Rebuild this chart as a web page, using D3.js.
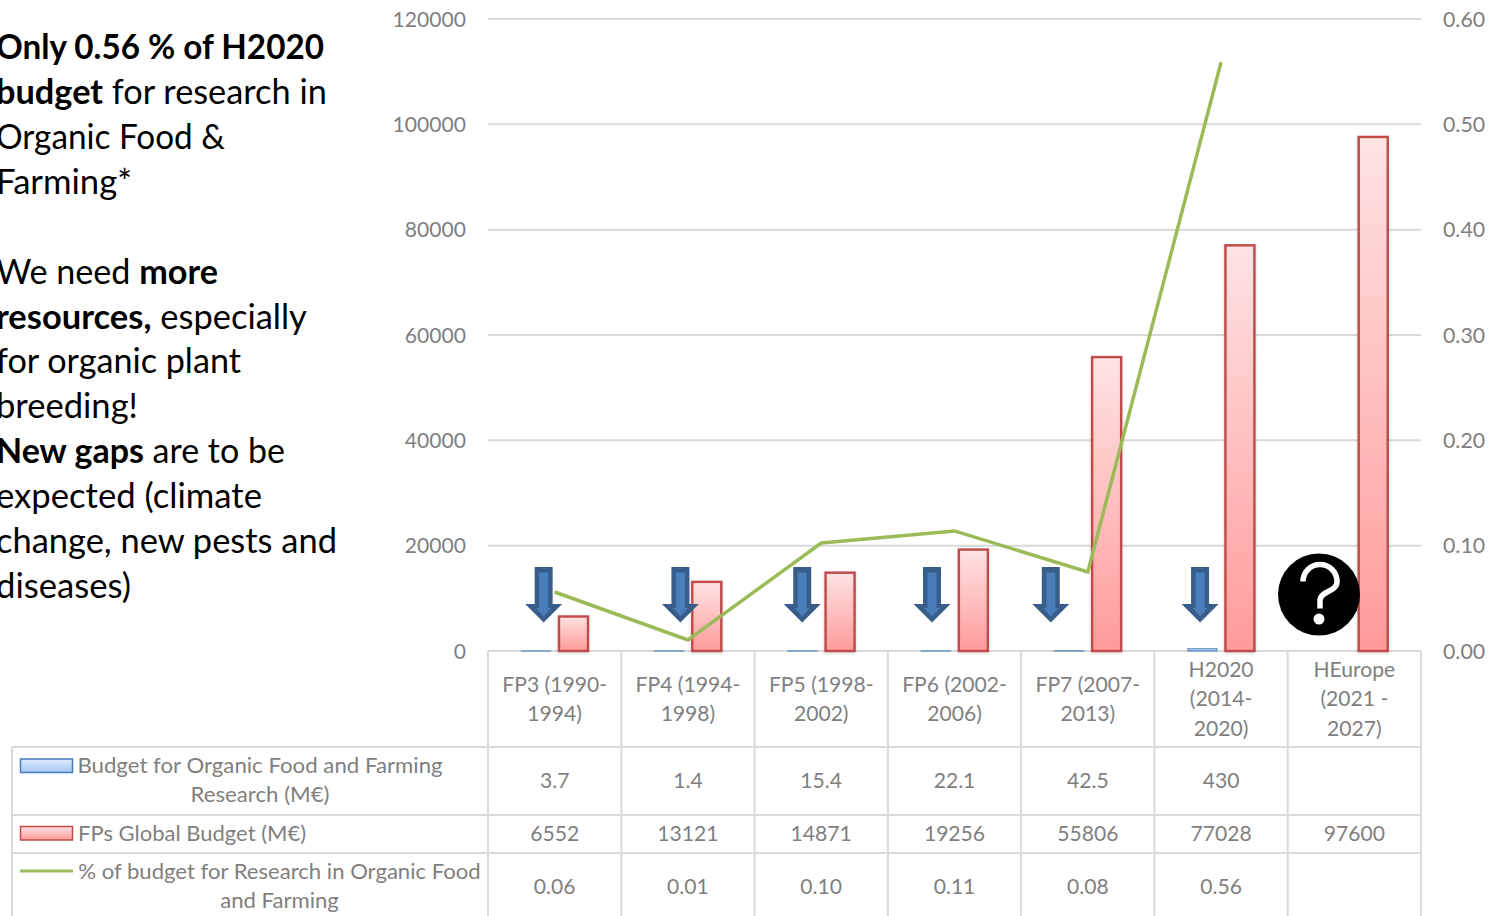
<!DOCTYPE html>
<html><head><meta charset="utf-8">
<script src="https://cdn.jsdelivr.net/npm/d3@7/dist/d3.min.js"></script>
<style>html,body{margin:0;padding:0;background:#fff;overflow:hidden}svg{display:block}text{font-family:Lato,"Noto Sans",sans-serif}</style>
</head><body><svg id="c" width="1499" height="916"></svg>
<script>
const categories=[["FP3 (1990-","1994)"],["FP4 (1994-","1998)"],["FP5 (1998-","2002)"],["FP6 (2002-","2006)"],["FP7 (2007-","2013)"],["H2020","(2014-","2020)"],["HEurope","(2021 -","2027)"]];
const organicBudget=[3.7,1.4,15.4,22.1,42.5,430,null];
const globalBudget=[6552,13121,14871,19256,55806,77028,97600];
const shareValues=[0.056,0.0105,0.1025,0.114,0.075,0.559];
const organicLabels=["3.7","1.4","15.4","22.1","42.5","430",""];
const globalLabels=["6552","13121","14871","19256","55806","77028","97600"];
const shareLabels=["0.06","0.01","0.10","0.11","0.08","0.56",""];
const leftTicks=[0,20000,40000,60000,80000,100000,120000];
const rightTicks=[0,0.1,0.2,0.3,0.4,0.5,0.6];
const legendOrganic=["Budget for Organic Food and Farming","Research (M€)"];
const legendGlobal=["FPs Global Budget (M€)"];
const legendShare=["% of budget for Research in Organic Food","and Farming"];
const arrowCategories=[0,1,2,3,4,5];
const notes=[[["Only 0.56 % of H2020",1]],[["budget",1],[" for research in",0]],[["Organic Food &",0]],[["Farming*",0]],[],[["We need ",0],["more",1]],[["resources,",1],[" especially",0]],[["for organic plant",0]],[["breeding!",0]],[["New gaps",1],[" are to be",0]],[["expected (climate",0]],[["change, new pests and",0]],[["diseases)",0]]];

// layout constants for the annotations, kept apart from the data
const arrowOffsets=[-11,-7.5,-19,-22.5,-37,-21];
const noteEnds=[324,327,225,132,0,218,307,241,138,285,262,337,131];

const svg=d3.select("#c");
const L=488,R=1421,T=19,B=651;
const x=d3.scaleBand().domain(d3.range(categories.length)).range([L,R]);
const y=d3.scaleLinear().domain([0,120000]).range([B,T]);
const y2=d3.scaleLinear().domain([0,0.6]).range([B,T]);
const inner=d3.scaleBand().domain(["o","g"]).range([33.5,100]).paddingInner(0.2267);
const TXT="#7f7f7f",GRID="#d9d9d9";
const rows=[747,815,853];
function label(g,str,px,py,size,anchor,sx){
  return g.append("text").attr("transform",`translate(${px},${py}) scale(${sx},1)`).attr("text-anchor",anchor||"middle")
   .attr("font-size",size).attr("fill",TXT).text(str);}

const defs=svg.append("defs");
function grad(id,a,b){const g=defs.append("linearGradient").attr("id",id).attr("x1",0).attr("y1",0).attr("x2",0).attr("y2",1);
 g.append("stop").attr("offset",0).attr("stop-color",a);g.append("stop").attr("offset",1).attr("stop-color",b);}
grad("gr","#ffe3e3","#ff9b9b");grad("gb","#e0ebfb","#a6c6f5");
const f=defs.append("filter").attr("id","sh").attr("x","-20%").attr("y","-20%").attr("width","140%").attr("height","140%");
f.append("feDropShadow").attr("dx",0).attr("dy",1).attr("stdDeviation",1.5).attr("flood-color","#000").attr("flood-opacity",0.2);

// gridlines
svg.append("g").selectAll("line").data(leftTicks.slice(1)).join("line")
 .attr("x1",L).attr("x2",R).attr("y1",d=>y(d)).attr("y2",d=>y(d)).attr("stroke",GRID).attr("stroke-width",2);

// axes
const axL=svg.append("g").attr("transform",`translate(${L},0)`).call(d3.axisLeft(y).tickValues(leftTicks).tickFormat(d3.format("d")).tickSize(0).tickPadding(22));
const axR=svg.append("g").attr("transform",`translate(${R},0)`).call(d3.axisRight(y2).tickValues(rightTicks).tickFormat(d3.format(".2f")).tickSize(0).tickPadding(22));
[[axL,-22,0.96],[axR,22,0.97]].forEach(([a,px,s])=>{a.select(".domain").remove();
 a.selectAll("text").attr("font-size",22).attr("fill",TXT).attr("dy","0.33em").attr("x",px/s).attr("transform",`scale(${s},1)`);});

// table
const tg=svg.append("g").attr("stroke",GRID).attr("stroke-width",2);
tg.append("line").attr("x1",L).attr("x2",R).attr("y1",B).attr("y2",B);
rows.forEach(r=>tg.append("line").attr("x1",12).attr("x2",R).attr("y1",r).attr("y2",r));
d3.range(categories.length+1).forEach(i=>{const px=i<categories.length?x(i):R;
 tg.append("line").attr("x1",px).attr("x2",px).attr("y1",B).attr("y2",916);});
tg.append("line").attr("x1",12).attr("x2",12).attr("y1",747).attr("y2",916);

// bars
svg.append("g").selectAll("rect").data(globalBudget).join("rect")
 .attr("x",(d,i)=>x(i)+inner("g")).attr("width",inner.bandwidth()).attr("y",d=>y(d)).attr("height",d=>B-y(d))
 .attr("fill","url(#gr)").attr("stroke","#be4b48").attr("stroke-width",2.4).attr("filter","url(#sh)");
svg.append("g").selectAll("rect").data(organicBudget.filter(d=>d!==null)).join("rect")
 .attr("x",(d,i)=>x(i)+inner("o")).attr("width",inner.bandwidth()).attr("y",d=>y(d)).attr("height",d=>B-y(d))
 .attr("fill","url(#gb)").attr("stroke","#4a7ebb").attr("stroke-opacity",0.7).attr("stroke-width",1.5);

// line
const line=d3.line().x((d,i)=>x(i)+x.bandwidth()/2).y(d=>y2(d));
svg.append("path").datum(shareValues).attr("d",line).attr("fill","none").attr("stroke","#9bbb59").attr("stroke-width",3.5);

// arrows
const ag=svg.append("g");
arrowCategories.forEach((c,i)=>{
 const cx=x(c)+x.bandwidth()/2+arrowOffsets[i];
 const top=567,neck=604,tip=622.5;
 ag.append("path").attr("d",`M${cx-9},${top}H${cx+9}V${neck}H${cx+18.5}L${cx},${tip}L${cx-18.5},${neck}H${cx-9}Z`).attr("fill","#385d8a");
 ag.append("path").attr("d",`M${cx-4.5},${top+5.5}H${cx+4.5}V${neck+4}H${cx+7.5}L${cx},${tip-6}L${cx-7.5},${neck+4}H${cx-4.5}Z`).attr("fill","#4a7ebb");
});

// question badge
const qx=1319,qy=594.5;
svg.append("circle").attr("cx",qx).attr("cy",qy).attr("r",41).attr("fill","#000");
svg.append("path").attr("d",`M${qx-16},${qy-13}A17,17 0 0 1 ${qx+18},${qy-13}C${qx+18},${qy-2} ${qx+1},${qy-4} ${qx+1},${qy+6}V${qy+14}`).attr("fill","none").attr("stroke","#fff").attr("stroke-width",5.5);
svg.append("circle").attr("cx",qx).attr("cy",qy+24.5).attr("r",5.5).attr("fill","#fff");

// category labels
const cg=svg.append("g");
categories.forEach((lines,i)=>{const cx=x(i)+x.bandwidth()/2;const base=lines.length===3?677:692;
 lines.forEach((s,j)=>label(cg,s,cx,base+j*29.3,22,"middle",0.96));});

// table values
const vg=svg.append("g");
[[organicLabels,788],[globalLabels,841],[shareLabels,894]].forEach(([arr,py])=>arr.forEach((s,i)=>{if(s)label(vg,s,x(i)+x.bandwidth()/2,py,22,"middle",0.96);}));

// legend
const lg=svg.append("g");
legendOrganic.forEach((s,j)=>label(lg,s,260,773+j*29,22,"middle",1.01));
label(lg,legendGlobal[0],78,840.5,22,"start",1);
legendShare.forEach((s,j)=>label(lg,s,279.5,879+j*29,22,"middle",1.005));
lg.append("rect").attr("x",20.5).attr("y",759).attr("width",52).attr("height",13.5).attr("fill","url(#gb)").attr("stroke","#4a7ebb").attr("stroke-width",1.5);
lg.append("rect").attr("x",20.5).attr("y",826.5).attr("width",52).attr("height",13.5).attr("fill","url(#gr)").attr("stroke","#be4b48").attr("stroke-width",1.5);
lg.append("line").attr("x1",20).attr("x2",73).attr("y1",871).attr("y2",871).attr("stroke","#9bbb59").attr("stroke-width",3);

// note text
const ng=svg.append("g");
notes.forEach((runs,i)=>{ if(!runs.length)return;
 const t=ng.append("text").attr("font-size",35).attr("fill","#000");
 runs.forEach(([s,b])=>t.append("tspan").attr("font-weight",b?700:400).style("white-space","pre").text(s));
 const s=(noteEnds[i]+4)/t.node().getComputedTextLength();
 t.attr("transform",`translate(-4,${59.4+i*44.85}) scale(${s},1)`);
});
</script></body></html>
